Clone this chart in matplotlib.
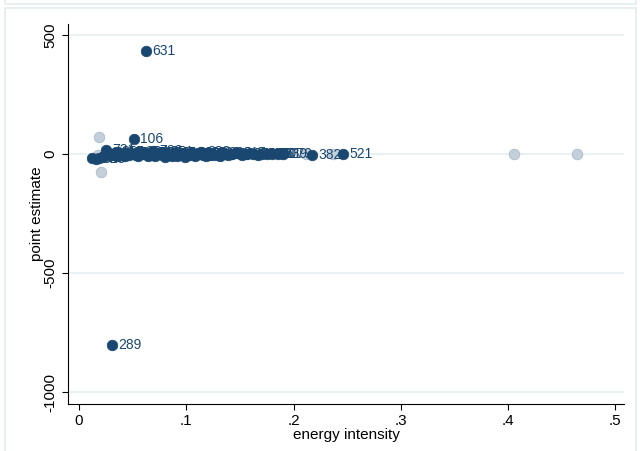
import matplotlib
matplotlib.use("Agg")
import matplotlib.pyplot as plt
from matplotlib.patches import Rectangle

plt.rcParams['font.family'] = ['Liberation Sans', 'DejaVu Sans']

# labelled estimates (navy)
ei = [0.012, 0.016, 0.019, 0.025, 0.027, 0.030, 0.031, 0.033, 0.036, 0.038,
      0.041, 0.044, 0.047, 0.050, 0.051, 0.053, 0.056, 0.058, 0.061, 0.0625,
      0.064, 0.066, 0.069, 0.071, 0.073, 0.075, 0.077, 0.080, 0.082, 0.085,
      0.087, 0.090, 0.093, 0.096, 0.099, 0.102, 0.105, 0.108, 0.111, 0.114,
      0.117, 0.120, 0.123, 0.127, 0.131, 0.135, 0.139, 0.143, 0.147, 0.152,
      0.157, 0.162, 0.167, 0.171, 0.175, 0.180, 0.185, 0.190, 0.217, 0.246,
      0.022, 0.034, 0.043, 0.055, 0.067, 0.079, 0.091, 0.104, 0.118, 0.133]
est = [-18, -22, -15, 18, 5, -5, -802, 2, -8, 4,
       -3, 6, -6, 2, 63, -4, 8, -2, 3, 433,
       -7, 5, 12, -10, 2, 6, -3, -12, 4, -6,
       -9, 3, -5, 2, -11, -4, 1, -7, 3, 8,
       -2, -6, 5, -3, -8, 2, -4, -1, 3, -5,
       -2, 1, -3, -1, 2, -2, 0, -1, -4, 0,
       -12, 9, -10, -9, -6, 7, -8, 6, -9, 4]
ids = [542, 625, 309, 731, 311, 283, 289, 314, 322, 369,
       352, 353, 351, 365, 106, 324, 354, 362, 359, 631,
       272, 341, 722, 342, 233, 291, 344, 243, 345, 232,
       234, 331, 261, 335, 231, 321, 327, 239, 336, 338,
       271, 221, 329, 313, 241, 326, 339, 242, 315, 312,
       273, 332, 173, 160, 170, 161, 139, 179, 382, 521,
       323, 355, 366, 262, 281, 251, 222, 211, 319, 282]

# unlabelled estimates (light)
ei_light = [0.018, 0.019, 0.0205, 0.060, 0.095, 0.140, 0.165, 0.190, 0.212, 0.237, 0.405, 0.464]
est_light = [-5, 71, -76, 2, -3, 1, -2, 0, 1, 0, 0, 0]

navy = '#1a476f'

fig = plt.figure(figsize=(6.44, 4.51), dpi=100)
fig.patches.append(Rectangle((5 / 644, 1 - 4 / 451), 631 / 644, 0.1, transform=fig.transFigure,
                             fill=False, edgecolor='#e4ecee', linewidth=1.2))
fig.patches.append(Rectangle((5 / 644, -0.05), 631 / 644, 1 - 8 / 451 + 0.05, transform=fig.transFigure,
                             fill=False, edgecolor='#e4ecee', linewidth=1.2))

ax = fig.add_axes([68 / 644, 47 / 451, 556 / 644, 380 / 451])
ax.scatter(ei_light, est_light, s=58, color='#c3cfdb', edgecolors='#aebccb', linewidths=0.6, zorder=3)
ax.scatter(ei, est, s=58, color=navy, edgecolors=navy, linewidths=0.5, zorder=4)
for x, y, t in zip(ei, est, ids):
    ax.annotate(str(t), (x, y), xytext=(4.5, 0), textcoords='offset points',
                fontsize=10, color=navy, va='center', ha='left', zorder=5)

ax.set_xlim(-0.0103, 0.508)
ax.set_ylim(-1050, 546)
ax.set_yticks([500, 0, -500, -1000])
ax.set_yticklabels(['500', '0', '-500', '-1000'], rotation=90, va='center')
ax.set_xticks([0, 0.1, 0.2, 0.3, 0.4, 0.5])
ax.set_xticklabels(['0', '.1', '.2', '.3', '.4', '.5'])
ax.grid(axis='y', color='#e6eff1', linewidth=1.2, zorder=0)
ax.set_axisbelow(True)
ax.tick_params(direction='out', length=4, width=0.8, labelsize=11, colors='black')
for s in ['top', 'right']:
    ax.spines[s].set_visible(False)
for s in ['left', 'bottom']:
    ax.spines[s].set_linewidth(0.8)
ax.set_xlabel('energy intensity', fontsize=11, labelpad=0)
ax.set_ylabel('point estimate', fontsize=11, labelpad=0)

fig.savefig('out.png', dpi=100)
